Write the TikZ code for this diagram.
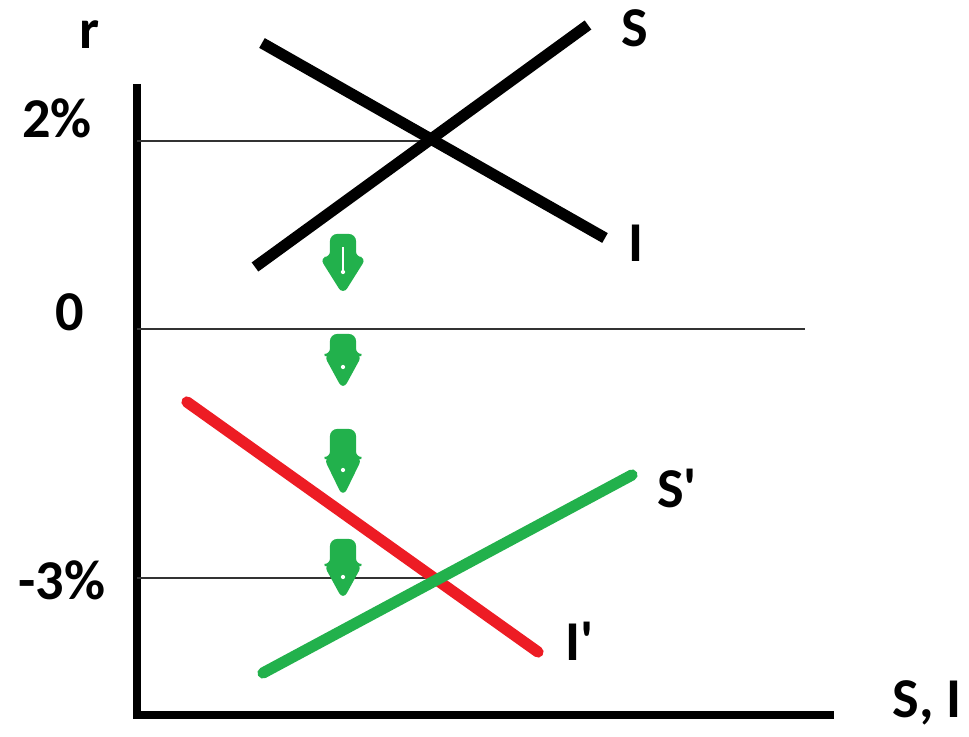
\documentclass[tikz,border=0pt]{standalone}
\usepackage{fontspec}
\setmainfont{Carlito}
\definecolor{paintgreen}{RGB}{34,177,76}
\definecolor{paintred}{RGB}{237,28,36}
\begin{document}
\begin{tikzpicture}[x=0.01cm,y=-0.01cm]
            %
            % `axis' is used for the two axes.
            % `level' is used for the thin rate lines.
            % `curve' is used for the S and I lines.
            % `lab' is used for all the texts.
            % `downarrow' is used for the green arrows.
            \tikzstyle{axis} = [line width=2pt,black]
            \tikzstyle{level} = [line width=0.45pt,black!80]
            \tikzstyle{curve} = [line width=3.2pt]
            \tikzstyle{lab} = [inner sep=0pt,font=\fontsize{16}{19}\selectfont\bfseries]
            \tikzstyle{downarrow} = [fill=paintgreen,draw=paintgreen,line width=0.6pt,rounded corners=1.8pt]
            \useasboundingbox (0,0) rectangle (969,737);
            %
            % Axes
            \coordinate (top) at (137,84);
            \coordinate (origin) at (137,715);
            \coordinate (right) at (834,715);
            \draw[axis] (top) -- (origin) -- (right);
            %
            % Rate levels
            \coordinate (r2) at (137,141);
            \coordinate (e1) at (432,141);
            \coordinate (r0) at (137,329);
            \coordinate (end0) at (805,329);
            \coordinate (r3) at (137,578);
            \coordinate (e2) at (432,578);
            \draw[level] (r2) -- (e1);
            \draw[level] (r0) -- (end0);
            \draw[level] (r3) -- (e2);
            %
            % Old curves
            \coordinate (s1) at (255,267);
            \coordinate (s2) at (588,25);
            \coordinate (i1) at (262,43);
            \coordinate (i2) at (605,238);
            \draw[curve] (s1) -- (s2);
            \draw[curve] (i1) -- (i2);
            %
            % New curves
            \coordinate (ip1) at (187,402);
            \coordinate (ip2) at (538,652);
            \coordinate (sp1) at (263,673);
            \coordinate (sp2) at (632,475);
            \draw[curve,paintred,line cap=round] (ip1) -- (ip2);
            \draw[curve,paintgreen,line cap=round] (sp1) -- (sp2);
            %
            % Arrows
            \foreach \t/\h/\b/\w/\d in {235/258/293/22/272, 335/355/388/18/367, 430/458/495/18/470, 540/565/598/18/577}{
                \filldraw[downarrow] (331,\t) -- (355,\t) -- (355,\h) -- (343+\w,\h) -- (343,\b) -- (343-\w,\h) -- (331,\h) -- cycle;
                \fill[white] (343,\d) circle (0.6pt);
            }
            \draw[white,line width=0.5pt] (343,247) -- (343,272);
            %
            % Labels
            \node[lab] (rlab) at (90,35) {r};
            \node[lab] (two) at (57,118) {2\%};
            \node[lab] (zero) at (70,312) {0};
            \node[lab] (minus) at (62,580) {-3\%};
            \node[lab] (slab) at (635,28) {S};
            \node[lab] (ilab) at (636,243) {I};
            \node[lab] (splab) at (677,488) {S\textquotesingle};
            \node[lab] (iplab) at (580,641) {I\textquotesingle};
            \node[lab] (xlab) at (927,703) {S, I};
        \end{tikzpicture}
\end{document}
